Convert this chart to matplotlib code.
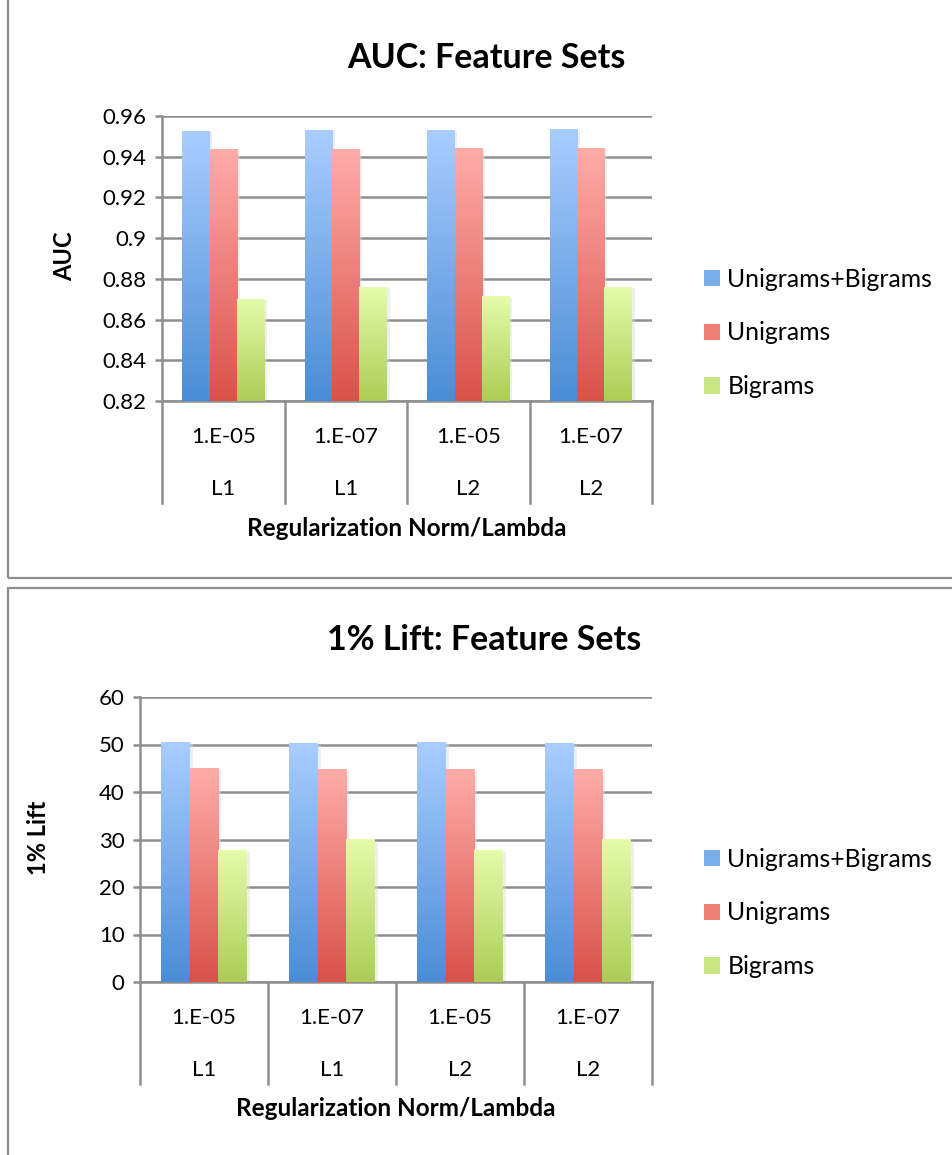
import numpy as np
import matplotlib
matplotlib.use('Agg')
import matplotlib.pyplot as plt
import matplotlib.patheffects as pe
from matplotlib.patches import Patch, Rectangle
from matplotlib.colors import LinearSegmentedColormap
from matplotlib.transforms import blended_transform_factory

plt.rcParams['font.family'] = ['Lato', 'DejaVu Sans']

# data
lambdas = ['1.E-05', '1.E-07', '1.E-05', '1.E-07']
norms = ['L1', 'L1', 'L2', 'L2']
series = ['Unigrams+Bigrams', 'Unigrams', 'Bigrams']
auc_uni_bi = [0.9526, 0.9531, 0.9531, 0.9536]
auc_uni = [0.9433, 0.9433, 0.9438, 0.9438]
auc_bi = [0.8701, 0.8760, 0.8711, 0.8760]
lift_uni_bi = [50.5, 50.2, 50.5, 50.2]
lift_uni = [45.0, 44.8, 44.8, 44.8]
lift_bi = [27.7, 30.0, 27.7, 30.0]

top_cols = ['#aacdff', '#ffaca9', '#e4fcab']
bot_cols = ['#4a8dd5', '#d9524a', '#abcd56']
mid_cols = ['#79aeea', '#ec7f78', '#c8e682']
grey = '#8e8e8e'

W, H = 952, 1155
fig = plt.figure(figsize=(W / 100, H / 100), dpi=100)


def px(x, y):
    return x / W, 1 - y / H


def draw_chart(rect, data, ymin, ymax, step, title, title_xy, ylabel, ylabel_xy, legend_xy):
    l, t, r, b = rect
    ax = fig.add_axes([l / W, 1 - b / H, (r - l) / W, (b - t) / H])
    x = np.arange(len(lambdas))
    w = 0.223
    grad = np.linspace(0, 1, 256).reshape(-1, 1)
    for i, vals in enumerate(data):
        xs = x + (i - 1) * w
        ax.bar(xs, np.array(vals) - ymin, bottom=ymin, width=w, color=bot_cols[i], zorder=2,
               path_effects=[pe.SimplePatchShadow(offset=(2, -1), shadow_rgbFace='#dddddd', alpha=0.45), pe.Normal()])
        cmap = LinearSegmentedColormap.from_list('g%d' % i, [top_cols[i], bot_cols[i]])
        for xx, v in zip(xs, vals):
            ax.imshow(grad, extent=[xx - w / 2, xx + w / 2, ymin, v], aspect='auto', cmap=cmap, zorder=3)
    ax.set_xlim(-0.5, len(lambdas) - 0.5)
    ax.set_ylim(ymin, ymax)
    ticks = np.arange(ymin, ymax + step / 2, step)
    ax.set_yticks(ticks)
    ax.set_yticklabels(['%g' % round(v, 2) for v in ticks], fontsize=16)
    ax.set_xticks([])
    ax.grid(axis='y', color=grey, lw=1.8, zorder=0)
    ax.set_axisbelow(True)
    for s in ['top', 'right']:
        ax.spines[s].set_visible(False)
    for s in ['left', 'bottom']:
        ax.spines[s].set_color(grey)
        ax.spines[s].set_linewidth(1.8)
    ax.tick_params(axis='y', length=5, width=1.8, color=grey, pad=6)

    # category labels below the axis
    hgt = b - t
    tr = blended_transform_factory(ax.transData, ax.transAxes)
    for k in range(len(lambdas) + 1):
        ax.plot([k - 0.5, k - 0.5], [0, -102 / hgt], color=grey, lw=1.8, transform=tr, clip_on=False)
    for k in range(len(lambdas)):
        ax.text(k, -36 / hgt, lambdas[k], transform=tr, ha='center', va='center', fontsize=16)
        ax.text(k, -88 / hgt, norms[k], transform=tr, ha='center', va='center', fontsize=16)
    ax.text(0.5, -127 / hgt, 'Regularization Norm/Lambda', transform=ax.transAxes,
            ha='center', va='center', fontsize=17.5, fontweight='bold')

    fig.text(*px(*title_xy), title, ha='center', va='center', fontsize=24.5, fontweight='bold')
    fig.text(*px(*ylabel_xy), ylabel, ha='center', va='center', rotation=90, fontsize=17, fontweight='bold')

    handles = [Patch(facecolor=mid_cols[i], edgecolor='none', label=series[i]) for i in range(3)]
    fig.legend(handles=handles, loc='center left', bbox_to_anchor=px(*legend_xy), frameon=False,
               fontsize=17.8, handlelength=0.65, handleheight=0.65, handletextpad=0.3,
               labelspacing=1.25, borderpad=0, borderaxespad=0)
    return ax


draw_chart((162, 116, 652, 401), [auc_uni_bi, auc_uni, auc_bi], 0.82, 0.96, 0.02,
           'AUC: Feature Sets', (486, 58), 'AUC', (65, 256), (704, 333))
draw_chart((140, 697, 652, 982), [lift_uni_bi, lift_uni, lift_bi], 0, 60, 10,
           '1% Lift: Feature Sets', (484, 640), '1% Lift', (38, 838), (704, 913))

# panel borders
for (y0, y1) in [(-10, 578), (588, 1165)]:
    fig.add_artist(Rectangle(px(8, y1), (W + 20) / W, (y1 - y0) / H, transform=fig.transFigure,
                             fill=False, edgecolor=grey, lw=1.6))

fig.savefig('out.png', dpi=100)
